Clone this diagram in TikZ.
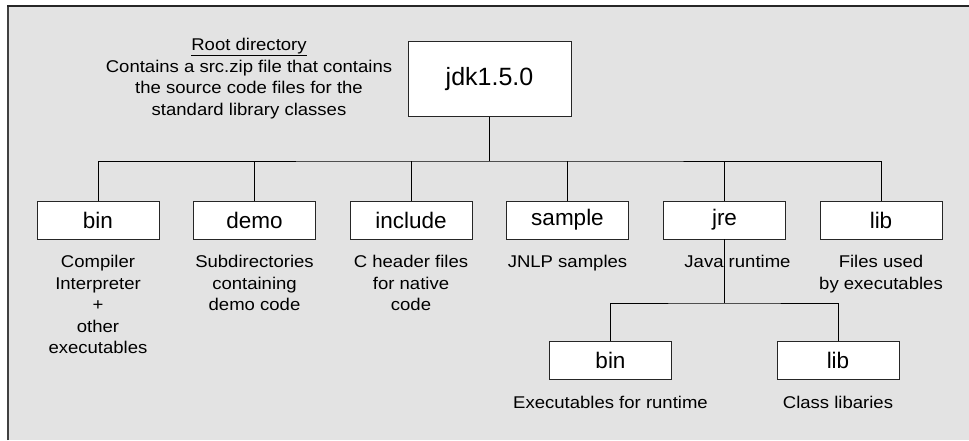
\documentclass[tikz,border=0pt]{standalone}
\usepackage{fontspec}
\setmainfont{Liberation Sans}
\newfontfamily\descfont[FakeStretch=1.09]{Liberation Sans}
\begin{document}
\begin{tikzpicture}[x=1pt,y=-1pt,
  dirbox/.style={draw=black!85,fill=white,line width=0.9pt,minimum width=122pt,minimum height=38pt,inner sep=0pt,font=\fontsize{22.5}{26}\selectfont},
  rootbox/.style={draw=black!85,fill=white,line width=0.9pt,minimum width=163pt,minimum height=75pt,inner sep=0pt,font=\fontsize{25}{30}\selectfont},
  desc/.style={anchor=north,align=center,inner sep=0pt,font=\descfont\fontsize{17}{21.5}\selectfont},
  conn/.style={draw=black,line width=0.8pt}]
\useasboundingbox (0,0) rectangle (969,440);
\fill[white] (0,0) rectangle (969,440);
\fill[black!11] (8,6) rectangle (969,440);
\draw[black!75,line width=2.2pt] (8,440) -- (8,6);
\draw[black!85,line width=1.2pt] (7,6) -- (969,6);

\node[rootbox] (jdk) at (489.5,79) {jdk1.5.0};
\node[desc] (rootd) at (249,38) {\underline{Root directory}\\Contains a src.zip file that contains\\the source code files for the\\standard library classes};

\node[dirbox] (bin) at (98,220) {bin};
\node[dirbox] (demo) at (254.5,220) {demo};
\node[dirbox] (include) at (411,220) {include};
\node[dirbox] (sample) at (567.5,220) {sample};
\node[dirbox] (jre) at (724.5,220) {jre};
\node[dirbox] (lib) at (881,220) {lib};

\coordinate (bar) at (489.5,161);
\coordinate (subbar) at (724.5,303);

\node[desc] (bind) at (98,255) {Compiler\\Interpreter\\+\\other\\executables};
\node[desc] (demod) at (254.5,255) {Subdirectories\\containing\\demo code};
\node[desc] (included) at (411,255) {C header files\\for native\\code};
\node[desc] (sampled) at (567.5,255) {JNLP samples};
\node[desc] (jred) at (737.5,255) {Java runtime};
\node[desc] (libd) at (881,255) {Files used\\by executables};

\node[dirbox] (jbin) at (610.5,360.5) {bin};
\node[dirbox] (jlib) at (838,360.5) {lib};
\node[desc] (jbind) at (610.5,396) {Executables for runtime};
\node[desc] (jlibd) at (838,396) {Class libaries};

\draw[conn] (jdk.south) -- (bar);
\draw[conn] (bin.north) |- (bar) -| (lib.north);
\draw[conn] (demo.north) -- (demo.north |- bar);
\draw[conn] (include.north) -- (include.north |- bar);
\draw[conn] (sample.north) -- (sample.north |- bar);
\draw[conn] (jre.north) -- (jre.north |- bar);
\draw[conn] (jre.south) -- (subbar);
\draw[conn] (jbin.north) |- (subbar) -| (jlib.north);
\end{tikzpicture}
\end{document}
